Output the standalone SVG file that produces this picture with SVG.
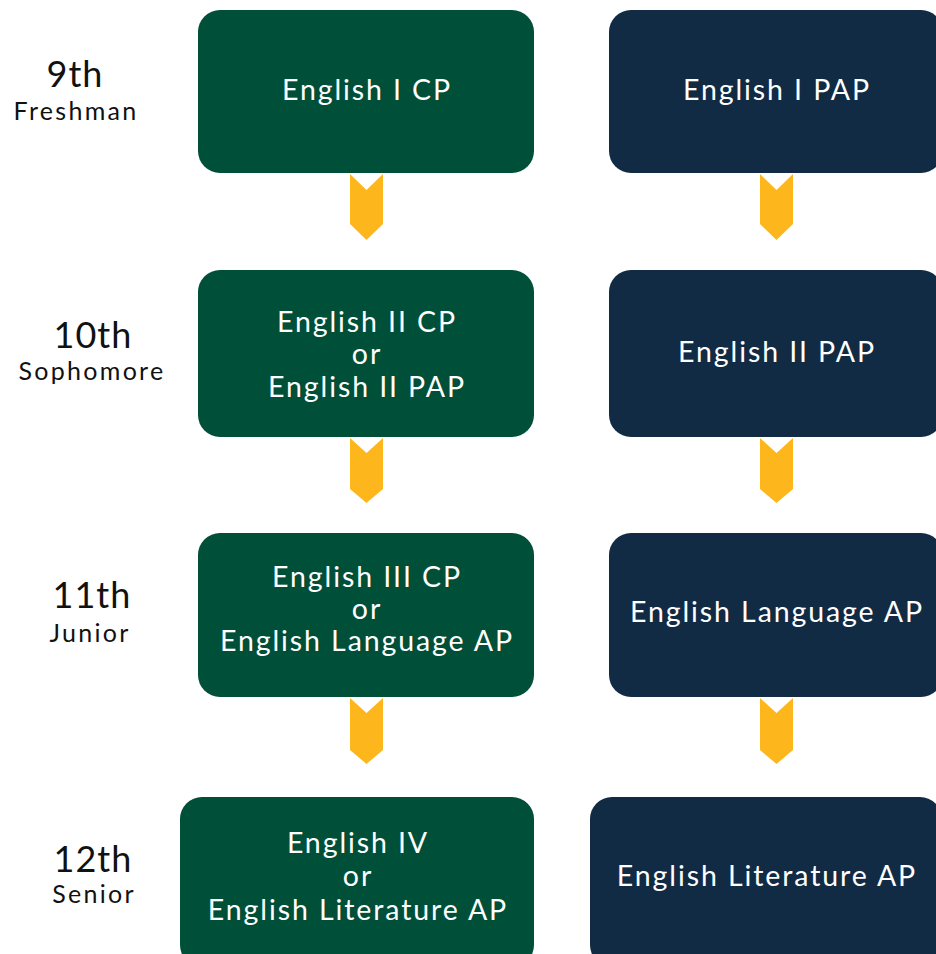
<svg xmlns="http://www.w3.org/2000/svg" width="936" height="954" viewBox="0 0 936 954">
<style>
.g{fill:#004F38}
.n{fill:#112B45}
.c{fill:#FDB71D}
.t{font-family:Lato,"Open Sans","Liberation Sans",sans-serif;font-size:28.5px;letter-spacing:1.9px;fill:#fff;text-anchor:middle}
.y{font-family:Lato,"Open Sans","Liberation Sans",sans-serif;font-size:36px;letter-spacing:1px;fill:#111;text-anchor:middle}
.s{font-family:Lato,"Open Sans","Liberation Sans",sans-serif;font-size:25px;letter-spacing:2.3px;fill:#111;text-anchor:middle}
</style>
<rect width="936" height="954" fill="#fff"/>
<g id="labels">
<g id="y9"><text class="y" x="75" y="87">9th</text><text class="s" x="76" y="120">Freshman</text></g>
<g id="y10"><text class="y" x="93" y="348">10th</text><text class="s" x="92" y="380">Sophomore</text></g>
<g id="y11"><text class="y" x="92" y="608">11th</text><text class="s" x="90" y="642">Junior</text></g>
<g id="y12"><text class="y" x="93" y="872">12th</text><text class="s" x="94" y="903">Senior</text></g>
</g>
<g id="connectors">
<path class="c" d="M350 174 L366.5 190 L383 174 L383 224 L366.5 240 L350 224 Z"/>
<path class="c" d="M760 174 L776.5 190 L793 174 L793 224 L776.5 240 L760 224 Z"/>
<path class="c" d="M350 438 L366.5 453 L383 438 L383 489 L366.5 503 L350 489 Z"/>
<path class="c" d="M760 438 L776.5 453 L793 438 L793 489 L776.5 503 L760 489 Z"/>
<path class="c" d="M350 698 L366.5 713 L383 698 L383 750 L366.5 764 L350 750 Z"/>
<path class="c" d="M760 698 L776.5 713 L793 698 L793 750 L776.5 764 L760 750 Z"/>
</g>
<g id="eng1cp"><rect class="g" x="198" y="10" width="336" height="163" rx="22"/><text class="t" x="367" y="100">English I CP</text></g>
<g id="eng1pap"><rect class="n" x="609" y="10" width="334" height="163" rx="22"/><text class="t" x="777" y="100">English I PAP</text></g>
<g id="eng2cp"><rect class="g" x="198" y="270" width="336" height="167" rx="22"/><text class="t" x="367" y="332">English II CP</text><text class="t" x="367" y="364">or</text><text class="t" x="367" y="397">English II PAP</text></g>
<g id="eng2pap"><rect class="n" x="609" y="270" width="334" height="167" rx="22"/><text class="t" x="777" y="362">English II PAP</text></g>
<g id="eng3cp"><rect class="g" x="198" y="533" width="336" height="164" rx="22"/><text class="t" x="367" y="587">English III CP</text><text class="t" x="367" y="619">or</text><text class="t" x="367" y="651">English Language AP</text></g>
<g id="eng3ap"><rect class="n" x="609" y="533" width="334" height="164" rx="22"/><text class="t" x="777" y="622">English Language AP</text></g>
<g id="eng4"><rect class="g" x="180" y="797" width="354" height="170" rx="22"/><text class="t" x="358" y="853">English IV</text><text class="t" x="358" y="886">or</text><text class="t" x="358" y="920">English Literature AP</text></g>
<g id="eng4ap"><rect class="n" x="590" y="797" width="352" height="170" rx="22"/><text class="t" x="767" y="886">English Literature AP</text></g>
</svg>
